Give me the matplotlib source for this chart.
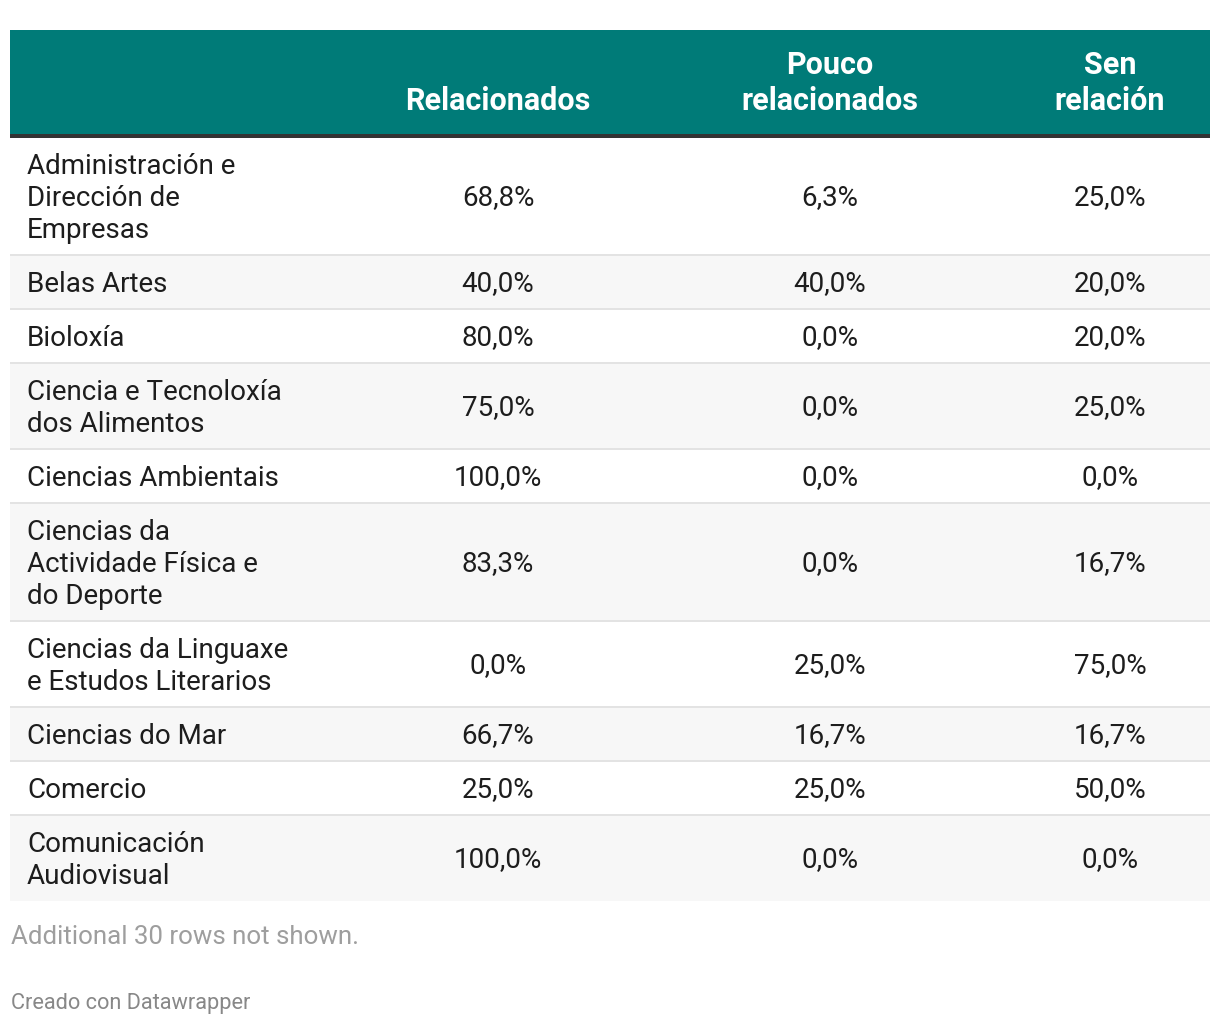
import matplotlib.pyplot as plt
from matplotlib.patches import Rectangle

plt.rcParams['font.family'] = ['Roboto', 'DejaVu Sans']

# data
categories = [
    "Administración e\nDirección de\nEmpresas",
    "Belas Artes",
    "Bioloxía",
    "Ciencia e Tecnoloxía\ndos Alimentos",
    "Ciencias Ambientais",
    "Ciencias da\nActividade Física e\ndo Deporte",
    "Ciencias da Linguaxe\ne Estudos Literarios",
    "Ciencias do Mar",
    "Comercio",
    "Comunicación\nAudiovisual",
]
relacionados = [68.8, 40.0, 80.0, 75.0, 100.0, 83.3, 0.0, 66.7, 25.0, 100.0]
pouco = [6.3, 40.0, 0.0, 0.0, 0.0, 0.0, 25.0, 16.7, 25.0, 0.0]
sen_relacion = [25.0, 20.0, 20.0, 25.0, 0.0, 16.7, 75.0, 16.7, 50.0, 0.0]
headers = ["Relacionados", "Pouco\nrelacionados", "Sen\nrelación"]
footnote = "Additional 30 rows not shown."
credit = "Creado con Datawrapper"

W, H = 1220, 1026
fig = plt.figure(figsize=(W / 100, H / 100), dpi=100)
ax = fig.add_axes([0, 0, 1, 1])
ax.set_xlim(0, W)
ax.set_ylim(H, 0)
ax.axis('off')

left, right = 10, 1210
col_x = [498, 830, 1110]
teal = "#007b78"
fs = 20   # body font size (pt)
line_h = 32
dy = 2    # small baseline nudge

def fmt(v):
    return f"{v:.1f}%".replace(".", ",")

# header
ax.add_patch(Rectangle((left, 30), right - left, 104, color=teal, lw=0))
ax.add_patch(Rectangle((left, 134), right - left, 3.5, color="#333333", lw=0))
for x, h in zip(col_x, headers):
    lines = h.split("\n")
    for i, ln in enumerate(lines):
        y = 99 + dy - (len(lines) - 1 - i) * 36
        ax.text(x, y, ln, ha="center", va="center", color="white",
                fontsize=22, fontweight="bold")

# rows
y0 = 137
for r, cat in enumerate(categories):
    lines = cat.split("\n")
    h = 22 + line_h * len(lines)
    if r % 2 == 1:
        ax.add_patch(Rectangle((left, y0), right - left, h, color="#f7f7f7", lw=0))
    if r > 0:
        ax.add_patch(Rectangle((left, y0 - 1), right - left, 2, color="#e3e3e3", lw=0))
    yc = y0 + h / 2 + dy
    for i, ln in enumerate(lines):
        yy = yc + (i - (len(lines) - 1) / 2) * line_h
        ax.text(27, yy, ln, ha="left", va="center", color="#1d1d1d", fontsize=fs)
    for x, v in zip(col_x, [relacionados[r], pouco[r], sen_relacion[r]]):
        ax.text(x, yc, fmt(v), ha="center", va="center", color="#1d1d1d", fontsize=fs)
    y0 += h

ax.text(11, 937, footnote, ha="left", va="center", color="#9e9e9e", fontsize=18.6)
ax.text(11, 1004, credit, ha="left", va="center", color="#888888", fontsize=15.7)

fig.savefig("out.png", dpi=100, facecolor="white")
